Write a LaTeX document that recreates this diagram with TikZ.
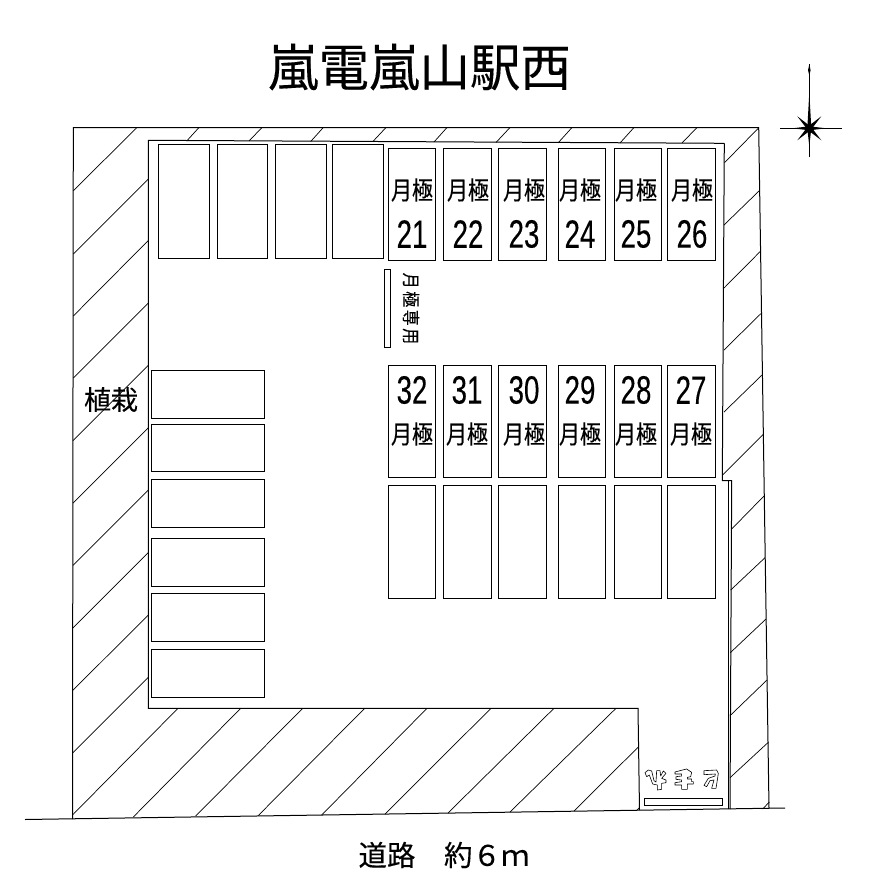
\documentclass[tikz,border=0pt]{standalone}
\usepackage{fontspec}
\usepackage{graphicx}
\newfontfamily\cjk[FakeBold=0.25]{Noto Sans CJK JP}
\newfontfamily\numfont[FakeBold=0.25]{Liberation Sans}
\newcommand\spotnum[1]{\scalebox{.7}[1]{\numfont\fontsize{39.5}{40}\selectfont #1}}
\newcommand\monthly{\scalebox{1}[1.2]{\cjk\fontsize{21}{22}\selectfont 月極}}
\tikzset{
  wall/.style={line width=1pt,black},
  hatch/.style={line width=.7pt,black},
  slot/.style={draw=black,line width=1pt,fill=white},
  txt/.style={inner sep=0pt,outer sep=0pt,text=black},
  glyphline/.style={draw=black,line width=.6pt,fill=white,line join=round},
  spark/.style={fill=black,draw=none}
}
\begin{document}
\begin{tikzpicture}[x=1pt,y=-1pt]
\useasboundingbox[fill=white] (0,0) rectangle (885,889);
% hatching
\foreach \a/\b/\c/\d in {
 73.3/190.7/137/127.5, 73.3/254/148.3/179, 73.3/316/148.3/240.5, 73.3/378/148.3/303,
 73/440.6/148.3/365.3, 73/503/148.3/427.7, 73/565.4/148.3/490, 73/627.8/148.3/552.5,
 72.5/690.7/148.3/615, 72.5/753/148.3/677.3, 72.5/815/178/708.3, 133.3/817/240.7/708.3,
 195.7/816/302.7/708.3, 258.3/815.5/364.7/708.3, 321.7/815/427/708.3, 385/814/491/708.3,
 448/813/554/708.3, 510/812/616/708.3, 574/811/638.3/747, 636.5/810.5/639.5/807.5,
 186.7/141/199/127.5, 249/141/262/127.5, 310.7/141.5/323.3/127.5, 372.7/141.7/386/127.5,
 434/142/447/127.5, 496/142.5/510/127.5, 558/143/572/127.5, 620/143/634/127.5, 682/143/697/127.5,
 724.5/162.7/758.5/128, 724/225/759.5/190.5, 724/288/760/251.7, 724/350/761/313.5, 724/412/762/375,
 722.7/475/763.5/434, 731.7/529/764.3/495.7, 730.7/590/765/557.7, 730.3/652.7/766/619,
 730/715.7/767/680, 730/777.7/768.3/742.3, 762.7/809/769.3/802}
 {\draw[hatch] (\a,\b) -- (\c,\d);}
% outer boundary
\draw[wall] (72.5,819) -- (73.3,127.5) -- (758.7,127.5) -- (769,808);
\draw[wall] (25,819.5) -- (785,808);
% inner boundary
\draw[wall] (724.3,143.3) -- (148.3,140.3) -- (148.3,708.3) -- (638,708.3) -- (639.5,810);
\draw[wall] (724.3,143.3) -- (722.3,480.5) -- (731.7,480.5) -- (730,809);
\draw[wall] (728.3,481) -- (728.3,809);
% upper empty bays
\foreach \l/\r in {158.3/209.3, 217.3/267.3, 275.3/326.7, 332.3/383.7}
 {\draw[slot] (\l,144.3) rectangle (\r,258.3);}
% numbered and lower bays
\foreach \l/\r in {388.3/435.7, 443.3/491.7, 498.3/546.7, 558.3/605.7, 614.3/661.7, 667.3/715.7}
 {\draw[slot] (\l,148.3) rectangle (\r,260.5);
  \draw[slot] (\l,365.3) rectangle (\r,477.4);
  \draw[slot] (\l,485) rectangle (\r,598.3);}
% left bays
\foreach \t/\b in {370.3/418.3, 424.3/471, 479.3/527.3, 538.3/586.3, 593.3/641.3, 649.3/697.3}
 {\draw[slot] (151.3,\t) rectangle (264.3,\b);}
% bars
\draw[slot] (384.3,269.3) rectangle (390.7,347.3);
\draw[slot] (644.3,798.3) rectangle (722.7,805.7);
% labels in bays
\foreach \x/\n in {412/21, 468/22, 524/23, 580/24, 636/25, 692/26}
 {\node[txt] (m\n) at (\x,190) {\monthly};
  \node[txt] (n\n) at (\x,234) {\spotnum{\n}};}
\foreach \x/\n in {412/32, 467/31, 524/30, 580/29, 636/28, 691/27}
 {\node[txt] (m\n) at (\x,434) {\monthly};
  \node[txt] (n\n) at (\x,390) {\spotnum{\n}};}
% other texts
\node[txt] (title) at (419.5,67) {\cjk\fontsize{50.5}{52}\selectfont 嵐電嵐山駅西};
\node[txt] (plant) at (111,399.5) {\cjk\fontsize{27}{28}\selectfont 植栽};
\node[txt] (road) at (444,855) {\cjk\fontsize{28.5}{30}\selectfont 道路　約６ｍ};
\node[txt,rotate=-90] (resv) at (411,308.5) {\scalebox{1}[1.12]{\cjk\fontsize{16}{17}\selectfont 月\hspace{2.5pt}極\hspace{2.5pt}専\hspace{2.5pt}用}};
% outlined glyph shapes above the bottom bar
\begin{scope}[shift={(640,760)},x=.3333pt,y=-.3333pt]
 \draw[glyphline] (15,38)--(25,30)--(35,33)--(42,62)--(48,66)--(50,32)--(60,32)--(62,48)--(70,33)--(78,40)--(65,55)--(78,60)--(78,68)--(65,70)--(65,88)--(52,90)--(52,75)--(38,72)--(28,45)--(20,50)--cycle;
 \draw[glyphline] (120,32)--(140,27)--(155,37)--(152,50)--(142,52)--(142,57)--(155,57)--(155,65)--(160,65)--(160,72)--(142,72)--(142,88)--(125,88)--(125,75)--(105,75)--(105,68)--(125,65)--(125,60)--(108,58)--(108,50)--(125,48)--(125,42)--(105,42)--(105,36)--cycle;
 \draw[glyphline] (192,32)--(230,30)--(235,40)--(232,60)--(228,85)--(215,85)--(222,60)--(210,62)--(200,80)--(192,76)--(205,55)--(225,48)--(226,42)--(192,44)--cycle;
\end{scope}
% compass
\begin{scope}[shift={(809.3,128.3)}]
 \draw[line width=.8pt] (0,-64) -- (0,29);
 \draw[line width=.8pt] (-29.5,0) -- (32.5,0);
 \fill[spark] (0,-36) -- (2,0) -- (0,18) -- (-2,0) -- cycle;
 \fill[spark] (-17,0) -- (0,-2) -- (17,0) -- (0,2) -- cycle;
 \fill[spark] (-1.3,-58) -- (0,-64) -- (1.3,-58) -- (0,-53) -- cycle;
 \fill[spark] (-12,-12) -- (1.6,-1.6) -- (12,12) -- (-1.6,1.6) -- cycle;
 \fill[spark] (12,-12) -- (1.6,1.6) -- (-12,12) -- (-1.6,-1.6) -- cycle;
\end{scope}
\end{tikzpicture}
\end{document}
